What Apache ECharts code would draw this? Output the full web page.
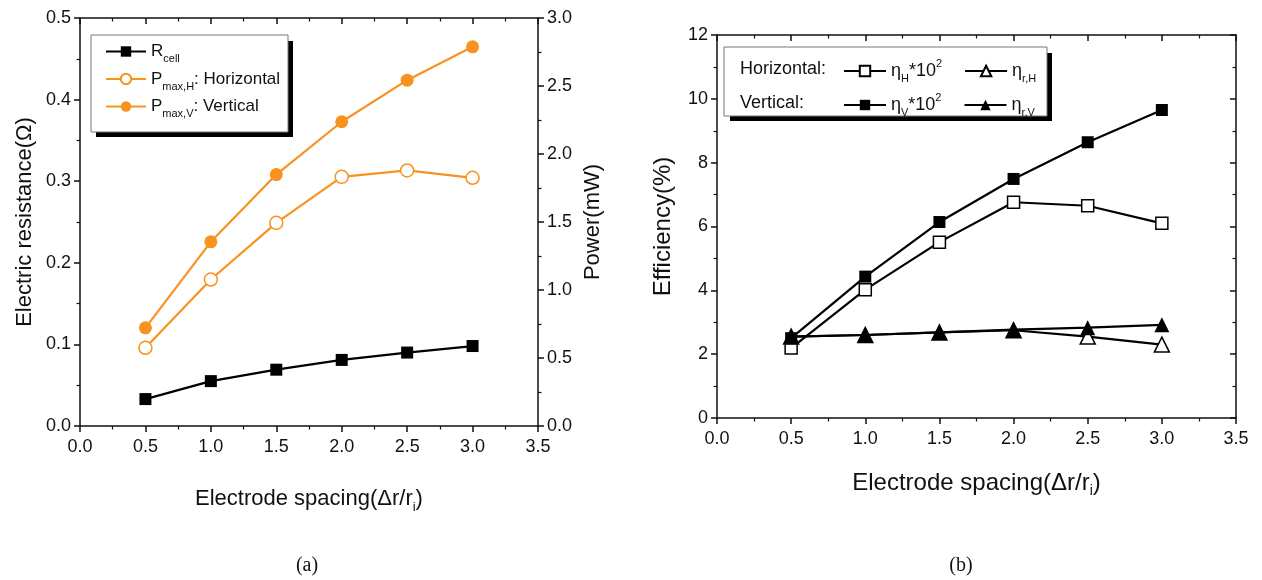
<!DOCTYPE html>
<html>
<head>
<meta charset="utf-8">
<script src="https://cdn.jsdelivr.net/npm/echarts@6/dist/echarts.min.js"></script>
<style>
html,body{margin:0;padding:0;background:#fff;}
#main{width:1262px;height:580px;}
</style>
</head>
<body>
<div id="main"></div>
<script>
// ---------- data ----------
var spacing = [0.5, 1.0, 1.5, 2.0, 2.5, 3.0];
// panel (a)
var rCell = [0.033, 0.055, 0.069, 0.081, 0.090, 0.098];          // Ω (left axis)
var pMaxH = [0.575, 1.077, 1.494, 1.832, 1.879, 1.825];          // mW (right axis)
var pMaxV = [0.722, 1.354, 1.849, 2.237, 2.543, 2.788];          // mW (right axis)
// panel (b)
var etaH  = [2.19, 4.02, 5.51, 6.76, 6.65, 6.10];
var etaV  = [2.50, 4.43, 6.14, 7.49, 8.64, 9.65];
var etaRH = [2.55, 2.60, 2.68, 2.75, 2.55, 2.30];
var etaRV = [2.55, 2.60, 2.68, 2.77, 2.83, 2.92];
// ticks
var xTicksMin = 0, xTicksMax = 3.5, xTickStep = 0.5;

function pairs(xs, ys){ return xs.map(function(x,i){ return [x, ys[i]]; }); }

var FONT = '"Liberation Sans", Arial, sans-serif';
var ORANGE = '#f7931e';
var AX = '#111';

var legendLabels = {
  Rcell: '{t|R}{s|cell}',
  PmaxH: '{t|P}{s|max,H}{t|: Horizontal}',
  PmaxV: '{t|P}{s|max,V}{t|: Vertical}',
  etaH:  '{t|η}{s|H}{t|*10}{p|2}',
  etaRH: '{t|η}{s|r,H}',
  etaV:  '{t|η}{s|V}{t|*10}{p|2}',
  etaRV: '{t|η}{s|r,V}'
};
function richFor(size){
  return {
    t: {fontSize: size, fontFamily: FONT, color: '#111', lineHeight: 26, verticalAlign: 'middle'},
    s: {fontSize: Math.round(size*0.62), fontFamily: FONT, color: '#111', lineHeight: 12, verticalAlign: 'bottom'},
    p: {fontSize: Math.round(size*0.62), fontFamily: FONT, color: '#111', lineHeight: 12, verticalAlign: 'top'}
  };
}

function xAxisBase(grid, fontSize, gap){
  return {
    type: 'value', gridIndex: grid, position: 'bottom',
    min: xTicksMin, max: xTicksMax, interval: xTickStep,
    axisLine: {show: true, onZero: false, lineStyle: {color: AX, width: 1.5}},
    axisTick: {show: true, inside: false, length: 6, lineStyle: {color: AX, width: 1.5}},
    minorTick: {show: true, splitNumber: 2, length: 3.5, lineStyle: {color: AX, width: 1.2}},
    splitLine: {show: false},
    axisLabel: {fontSize: 18, fontFamily: FONT, color: '#111', margin: 12,
      formatter: function(v){ return v.toFixed(1); }},
    name: '{n|Electrode spacing(Δr/r}{s|i}{n|)}',
    nameLocation: 'middle', nameGap: gap,
    nameTextStyle: {rich: {
      n: {fontSize: fontSize, fontFamily: FONT, color: '#111', lineHeight: 30, verticalAlign: 'middle'},
      s: {fontSize: Math.round(fontSize*0.6), fontFamily: FONT, color: '#111', lineHeight: 14, verticalAlign: 'bottom'}
    }}
  };
}
function xAxisTop(grid){
  return {
    type: 'value', gridIndex: grid, position: 'top',
    min: xTicksMin, max: xTicksMax, interval: xTickStep,
    axisLine: {show: true, onZero: false, lineStyle: {color: AX, width: 1.5}},
    axisTick: {show: true, inside: true, length: 6, lineStyle: {color: AX, width: 1.5}},
    minorTick: {show: true, splitNumber: 2, length: 3.5, lineStyle: {color: AX, width: 1.2}},
    splitLine: {show: false}, axisLabel: {show: false}
  };
}
function yAxis(grid, pos, min, max, step, digits, name, nameSize, gap, showLabel, inside){
  return {
    type: 'value', gridIndex: grid, position: pos,
    min: min, max: max, interval: step,
    axisLine: {show: true, onZero: false, lineStyle: {color: AX, width: 1.5}},
    axisTick: {show: true, inside: inside, length: 6, lineStyle: {color: AX, width: 1.5}},
    minorTick: {show: true, splitNumber: 2, length: 3.5, lineStyle: {color: AX, width: 1.2}},
    splitLine: {show: false},
    axisLabel: {show: showLabel, fontSize: 18, fontFamily: FONT, color: '#111', margin: 9,
      formatter: function(v){ return v.toFixed(digits); }},
    name: name, nameLocation: 'middle', nameGap: gap,
    nameTextStyle: {fontSize: nameSize, fontFamily: FONT, color: '#111'}
  };
}

function lineSeries(name, xi, yi, data, color, symbol, size, hollow){
  return {
    name: name, type: 'line', xAxisIndex: xi, yAxisIndex: yi,
    data: pairs(spacing, data),
    symbol: symbol, symbolSize: size, showSymbol: true,
    lineStyle: {color: color, width: 2.2},
    itemStyle: {color: hollow ? '#fff' : color, borderColor: color, borderWidth: hollow ? 1.5 : 0},
    z: 3, animation: false
  };
}

var option = {
  backgroundColor: '#fff',
  animation: false,
  grid: [
    {left: 80, right: 724, top: 18, bottom: 154, containLabel: false},
    {left: 717, right: 26, top: 35, bottom: 162, containLabel: false}
  ],
  xAxis: [
    xAxisBase(0, 22, 58),
    xAxisTop(0),
    xAxisBase(1, 24, 50),
    xAxisTop(1)
  ],
  yAxis: [
    yAxis(0, 'left', 0, 0.5, 0.1, 1, 'Electric resistance(Ω)', 22, 44, true, false),
    yAxis(0, 'right', 0, 3, 0.5, 1, 'Power(mW)', 22, 44, true, false),
    yAxis(1, 'left', 0, 12, 2, 0, 'Efficiency(%)', 24, 42, true, false),
    yAxis(1, 'right', 0, 12, 2, 0, '', 12, 10, false, true)
  ],
  legend: [
    {
      data: ['Rcell', 'PmaxH', 'PmaxV'], orient: 'vertical',
      left: 100, top: 38, itemWidth: 40, itemHeight: 13, itemGap: 6,
      formatter: function(n){ return legendLabels[n]; },
      textStyle: {rich: {
        t: {fontSize: 17, fontFamily: FONT, color: '#111', lineHeight: 26, verticalAlign: 'middle'},
        s: {fontSize: 11, fontFamily: FONT, color: '#111', lineHeight: 11, verticalAlign: 'bottom'}
      }}, selectedMode: false, z: 10
    },
    {
      data: ['etaH', 'etaRH'], orient: 'horizontal',
      left: 838, top: 53, itemWidth: 42, itemHeight: 13, itemGap: 22,
      formatter: function(n){ return legendLabels[n]; },
      textStyle: {rich: richFor(18)}, selectedMode: false, z: 10
    },
    {
      data: ['etaV', 'etaRV'], orient: 'horizontal',
      left: 838, top: 87, itemWidth: 42, itemHeight: 13, itemGap: 22,
      formatter: function(n){ return legendLabels[n]; },
      textStyle: {rich: richFor(18)}, selectedMode: false, z: 10
    }
  ],
  graphic: [
    {type: 'rect', z: 1, shape: {x: 96, y: 41, width: 197, height: 96}, style: {fill: '#000'}},
    {type: 'rect', z: 2, shape: {x: 91, y: 35, width: 197, height: 97}, style: {fill: '#fff', stroke: '#777', lineWidth: 1}},
    {type: 'rect', z: 1, shape: {x: 730, y: 53, width: 322, height: 68}, style: {fill: '#000'}},
    {type: 'rect', z: 2, shape: {x: 724, y: 47, width: 323, height: 69}, style: {fill: '#fff', stroke: '#777', lineWidth: 1}},
    {type: 'text', z: 5, x: 740, y: 69, style: {text: 'Horizontal:', font: '18px ' + FONT, fill: '#111', textVerticalAlign: 'middle'}},
    {type: 'text', z: 5, x: 740, y: 103, style: {text: 'Vertical:', font: '18px ' + FONT, fill: '#111', textVerticalAlign: 'middle'}},
    {type: 'text', z: 5, x: 307, y: 566, style: {text: '(a)', font: '20px "Liberation Serif", "Times New Roman", serif', fill: '#111', textAlign: 'center', textVerticalAlign: 'middle'}},
    {type: 'text', z: 5, x: 961, y: 566, style: {text: '(b)', font: '20px "Liberation Serif", "Times New Roman", serif', fill: '#111', textAlign: 'center', textVerticalAlign: 'middle'}}
  ],
  series: [
    lineSeries('Rcell', 0, 0, rCell, '#000', 'rect', 12, false),
    lineSeries('PmaxH', 0, 1, pMaxH, ORANGE, 'circle', 13, true),
    lineSeries('PmaxV', 0, 1, pMaxV, ORANGE, 'circle', 13, false),
    lineSeries('etaH', 2, 2, etaH, '#000', 'rect', 12, true),
    lineSeries('etaV', 2, 2, etaV, '#000', 'rect', 12, false),
    lineSeries('etaRH', 2, 2, etaRH, '#000', 'triangle', 15, true),
    lineSeries('etaRV', 2, 2, etaRV, '#000', 'triangle', 15, false)
  ]
};

var chart = echarts.init(document.getElementById('main'), null, {renderer: 'canvas'});
chart.setOption(option);
</script>
</body>
</html>
